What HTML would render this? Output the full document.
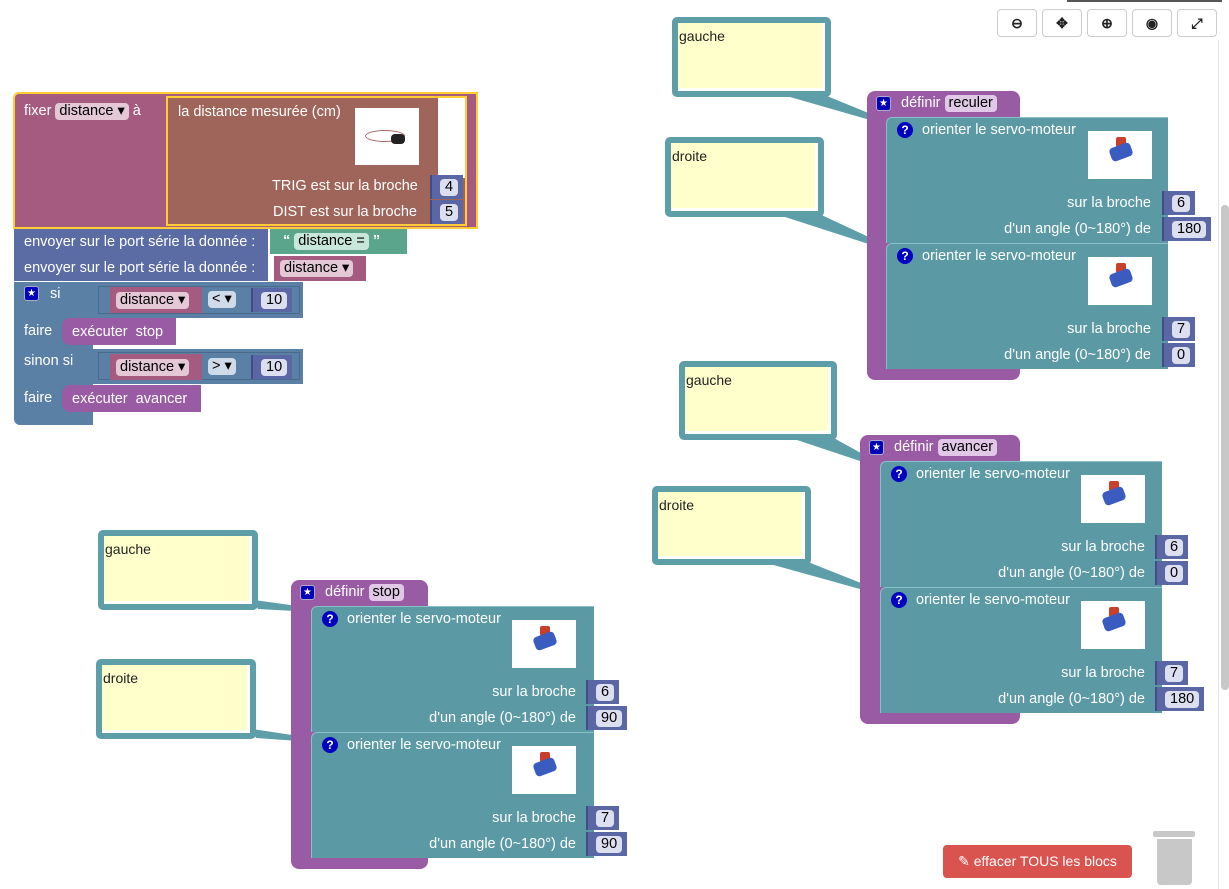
<!DOCTYPE html>
<html><head><meta charset="utf-8">
<style>
*{box-sizing:border-box;margin:0;padding:0}
body{width:1229px;height:889px;background:#fff;position:relative;overflow:hidden;font-family:"Liberation Sans",Arial,sans-serif}
.a{position:absolute}
.t{position:absolute;color:#fff;font-size:14.5px;line-height:16px;white-space:nowrap}
.cm{position:absolute;border:6px solid #5d9ea8;border-radius:5px;background:#ffffcc;box-shadow:inset -3px -3px 0 #fff}
.cm span{position:absolute;left:1px;top:5px;font-size:14px;color:#222}
.def{position:absolute;background:#9a5ba5;border-radius:8px}
.def .star{position:absolute;left:9px;top:5px;width:15px;height:15px;background:#0000b8;border:1px solid #aac;border-radius:3px;color:#fff;font-size:10px;line-height:13px;text-align:center}
.fld{display:inline-block;background:#e0c8e6;color:#000;border-radius:4px;padding:0 4px;line-height:17px}
.sv{position:absolute;background:#5b9aa5;height:126px;border-top:1px solid #8cc0c8;border-left:1px solid #8cc0c8;border-radius:6px 0 0 0}
.sv .q{position:absolute;left:10px;top:4px;width:16px;height:16px;border-radius:50%;background:#0000c0;color:#fff;font-size:12px;font-weight:bold;text-align:center;line-height:16px}
.sv .im{position:absolute;top:13px;width:64px;height:48px;background:#fff}
.sv .im i{position:absolute;left:22px;top:14px;width:22px;height:14px;background:#3a5bc0;border-radius:4px;transform:rotate(-20deg)}
.sv .im b{position:absolute;left:28px;top:6px;width:10px;height:10px;background:#c8402c;border-radius:2px}
.pl{position:absolute;background:#5b67a5;height:24px;padding:3px 5px 0 8px;border-left:2px solid #434d85}
.pl span{display:inline-block;background:#dcdff0;color:#000;border-radius:4px;padding:0 5px;font-size:14.5px;line-height:17px}
.tb{position:absolute;top:9px;width:40px;height:28px;border:1px solid #ccc;border-radius:4px;background:#fff;font-size:14px;text-align:center;line-height:26px;color:#222;font-weight:bold}
</style></head><body>

<svg class="a" style="left:0;top:0" width="1229" height="889">
<g fill="#5d9ea8">
<polygon points="790,97 822,94 888,121 884,124"/>
<polygon points="782,216 815,212 888,246 884,249"/>
<polygon points="797,440 830,436 881,464 878,467"/>
<polygon points="770,564 803,560 881,591 878,594"/>
<polygon points="254,600 258,609 313,612 312,608"/>
<polygon points="252,729 256,738 313,742 312,738"/>
</g>
</svg>

<div class="cm" style="left:672px;top:17px;width:159px;height:80px"><span>gauche</span></div>
<div class="cm" style="left:665px;top:137px;width:159px;height:80px"><span>droite</span></div>
<div class="cm" style="left:679px;top:361px;width:158px;height:79px"><span>gauche</span></div>
<div class="cm" style="left:652px;top:486px;width:159px;height:79px"><span>droite</span></div>
<div class="cm" style="left:98px;top:530px;width:160px;height:80px"><span>gauche</span></div>
<div class="cm" style="left:96px;top:659px;width:160px;height:80px"><span>droite</span></div>

<div class="def" style="left:867px;top:91px;width:153px;height:289px"><div class="star">★</div><div class="t" style="left:34px;top:4px">définir <span class="fld">reculer</span></div></div>
<div class="sv" style="left:886px;top:117px;width:282px"><div class="q">?</div><div class="t" style="left:35px;top:4px">orienter le servo-moteur</div><div class="im" style="left:201px"><b></b><i></i></div><div class="t" style="right:17px;top:77px">sur la broche</div><div class="t" style="right:17px;top:103px">d'un angle (0~180°) de</div></div>
<div class="pl" style="left:1162px;top:191px"><span>6</span></div>
<div class="pl" style="left:1162px;top:217px"><span>180</span></div>
<div class="sv" style="left:886px;top:243px;width:282px"><div class="q">?</div><div class="t" style="left:35px;top:4px">orienter le servo-moteur</div><div class="im" style="left:201px"><b></b><i></i></div><div class="t" style="right:17px;top:77px">sur la broche</div><div class="t" style="right:17px;top:103px">d'un angle (0~180°) de</div></div>
<div class="pl" style="left:1162px;top:317px"><span>7</span></div>
<div class="pl" style="left:1162px;top:343px"><span>0</span></div>

<div class="def" style="left:860px;top:435px;width:160px;height:289px"><div class="star">★</div><div class="t" style="left:34px;top:4px">définir <span class="fld">avancer</span></div></div>
<div class="sv" style="left:880px;top:461px;width:282px"><div class="q">?</div><div class="t" style="left:35px;top:4px">orienter le servo-moteur</div><div class="im" style="left:200px"><b></b><i></i></div><div class="t" style="right:17px;top:77px">sur la broche</div><div class="t" style="right:17px;top:103px">d'un angle (0~180°) de</div></div>
<div class="pl" style="left:1155px;top:535px"><span>6</span></div>
<div class="pl" style="left:1155px;top:561px"><span>0</span></div>
<div class="sv" style="left:880px;top:587px;width:282px"><div class="q">?</div><div class="t" style="left:35px;top:4px">orienter le servo-moteur</div><div class="im" style="left:200px"><b></b><i></i></div><div class="t" style="right:17px;top:77px">sur la broche</div><div class="t" style="right:17px;top:103px">d'un angle (0~180°) de</div></div>
<div class="pl" style="left:1155px;top:661px"><span>7</span></div>
<div class="pl" style="left:1155px;top:687px"><span>180</span></div>

<div class="def" style="left:291px;top:580px;width:137px;height:289px"><div class="star">★</div><div class="t" style="left:34px;top:4px">définir <span class="fld">stop</span></div></div>
<div class="sv" style="left:311px;top:606px;width:283px"><div class="q">?</div><div class="t" style="left:35px;top:4px">orienter le servo-moteur</div><div class="im" style="left:200px"><b></b><i></i></div><div class="t" style="right:18px;top:77px">sur la broche</div><div class="t" style="right:18px;top:103px">d'un angle (0~180°) de</div></div>
<div class="pl" style="left:586px;top:680px"><span>6</span></div>
<div class="pl" style="left:586px;top:706px"><span>90</span></div>
<div class="sv" style="left:311px;top:732px;width:283px"><div class="q">?</div><div class="t" style="left:35px;top:4px">orienter le servo-moteur</div><div class="im" style="left:200px"><b></b><i></i></div><div class="t" style="right:18px;top:77px">sur la broche</div><div class="t" style="right:18px;top:103px">d'un angle (0~180°) de</div></div>
<div class="pl" style="left:586px;top:806px"><span>7</span></div>
<div class="pl" style="left:586px;top:832px"><span>90</span></div>

<div class="a" style="left:13px;top:92px;width:465px;height:137px;background:#a55b80;border:2px solid #fc3;border-radius:6px 0 0 0"></div>
<div class="t" style="left:24px;top:103px">fixer <span class="fld" style="background:#e4c8d6">distance ▾</span> à</div>
<div class="a" style="left:166px;top:96px;width:301px;height:130px;background:#a0655a;border:2px solid #fc3"></div>
<div class="a" style="left:438px;top:98px;width:27px;height:80px;background:#fff"></div>
<div class="t" style="left:178px;top:104px">la distance mesurée (cm)</div>
<div class="a" style="left:355px;top:108px;width:64px;height:57px;background:#fff"><div class="a" style="left:10px;top:22px;width:40px;height:12px;border:1px solid #a66;border-radius:50%"></div><div class="a" style="left:36px;top:26px;width:14px;height:10px;background:#222;border-radius:4px"></div></div>
<div class="t" style="left:272px;top:178px">TRIG est sur la broche</div>
<div class="pl" style="left:430px;top:175px"><span>4</span></div>
<div class="t" style="left:273px;top:204px">DIST est sur la broche</div>
<div class="pl" style="left:430px;top:200px"><span>5</span></div>

<div class="a" style="left:14px;top:229px;width:254px;height:26px;background:#5b6ca5"></div>
<div class="t" style="left:24px;top:234px">envoyer sur le port série la donnée :</div>
<div class="a" style="left:270px;top:229px;width:137px;height:25px;background:#5ba58c"></div>
<div class="t" style="left:283px;top:233px;font-weight:bold">“ <span class="fld" style="background:#c9e6da;font-weight:normal">distance =</span> ”</div>
<div class="a" style="left:14px;top:255px;width:254px;height:26px;background:#5b6ca5"></div>
<div class="t" style="left:24px;top:260px">envoyer sur le port série la donnée :</div>
<div class="a" style="left:274px;top:256px;width:92px;height:25px;background:#a55b80"></div>
<div class="t" style="left:280px;top:260px"><span class="fld" style="background:#e4c8d6">distance ▾</span></div>

<div class="a" style="left:14px;top:282px;width:79px;height:143px;background:#5b80a5;border-radius:0 0 0 6px"></div>
<div class="a" style="left:93px;top:282px;width:210px;height:36px;background:#5b80a5"></div>
<div class="a" style="left:93px;top:349px;width:210px;height:35px;background:#5b80a5"></div>
<div class="a" style="left:24px;top:286px;width:15px;height:15px;background:#0000b8;border:1px solid #aac;border-radius:3px;color:#fff;font-size:10px;line-height:13px;text-align:center">★</div>
<div class="t" style="left:50px;top:286px">si</div>
<div class="a" style="left:98px;top:286px;width:202px;height:28px;background:#5b80a5;border:1px solid #4a6a8c"></div>
<div class="a" style="left:110px;top:287px;width:92px;height:26px;background:#a55b80"></div>
<div class="t" style="left:116px;top:292px"><span class="fld" style="background:#e4c8d6">distance ▾</span></div>
<div class="t" style="left:208px;top:291px"><span class="fld" style="background:#cfdbe8">&lt; ▾</span></div>
<div class="pl" style="left:251px;top:288px"><span>10</span></div>
<div class="t" style="left:24px;top:323px">faire</div>
<div class="a" style="left:62px;top:318px;width:114px;height:27px;background:#9a5ba5;border-radius:8px 0 0 8px"></div>
<div class="t" style="left:72px;top:324px">exécuter &nbsp;stop</div>
<div class="t" style="left:24px;top:353px">sinon si</div>
<div class="a" style="left:98px;top:352px;width:202px;height:28px;background:#5b80a5;border:1px solid #4a6a8c"></div>
<div class="a" style="left:110px;top:354px;width:92px;height:26px;background:#a55b80"></div>
<div class="t" style="left:116px;top:359px"><span class="fld" style="background:#e4c8d6">distance ▾</span></div>
<div class="t" style="left:208px;top:358px"><span class="fld" style="background:#cfdbe8">&gt; ▾</span></div>
<div class="pl" style="left:251px;top:355px"><span>10</span></div>
<div class="t" style="left:24px;top:390px">faire</div>
<div class="a" style="left:62px;top:385px;width:139px;height:27px;background:#9a5ba5;border-radius:8px 0 0 8px"></div>
<div class="t" style="left:72px;top:391px">exécuter &nbsp;avancer</div>

<div class="a" style="left:1067px;top:0;width:155px;height:2px;background:#555"></div>
<div class="tb" style="left:997px">⊖</div>
<div class="tb" style="left:1042px">✥</div>
<div class="tb" style="left:1087px">⊕</div>
<div class="tb" style="left:1132px">◉</div>
<div class="tb" style="left:1177px">⤢</div>
<div class="a" style="left:1218px;top:40px;width:1px;height:849px;background:#e4e4e4"></div>
<div class="a" style="left:1221px;top:205px;width:8px;height:485px;background:#c8c8c8;border-radius:4px"></div>

<div class="a" style="left:943px;top:845px;width:189px;height:33px;background:#d9534f;border-radius:4px;color:#fff;font-size:14px;line-height:33px;text-align:center">✎ effacer TOUS les blocs</div>
<div class="a" style="left:1153px;top:831px;width:42px;height:6px;background:#c8c8c8;border-radius:2px"></div>
<div class="a" style="left:1157px;top:839px;width:35px;height:46px;background:#c8c8c8;border-radius:0 0 4px 4px"></div>
</body></html>
